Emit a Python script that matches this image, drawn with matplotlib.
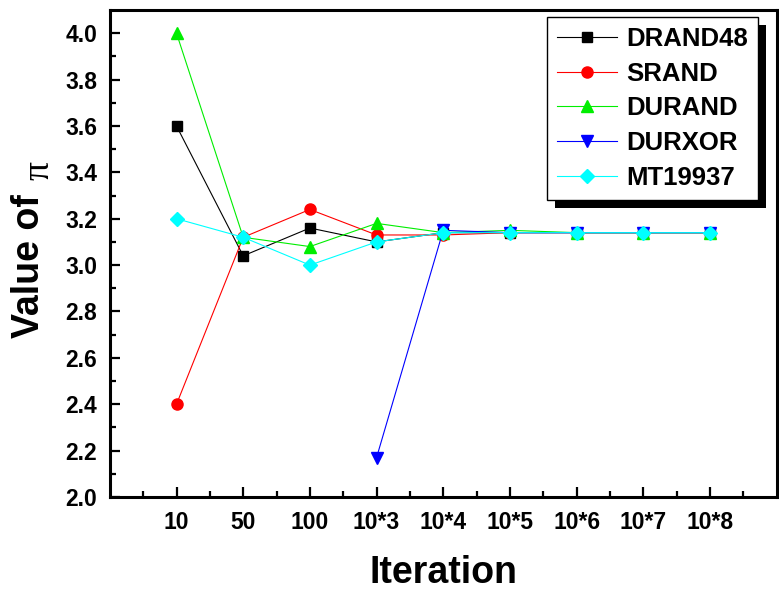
import numpy as np
import matplotlib.pyplot as plt
from matplotlib.patches import Rectangle

# estimates of pi from several random generators vs. iteration count
iters = ["10", "50", "100", "10*3", "10*4", "10*5", "10*6", "10*7", "10*8"]
drand48 = [3.60, 3.04, 3.16, 3.10, 3.14, 3.14, 3.14, 3.14, 3.14]
srand = [2.40, 3.12, 3.24, 3.13, 3.13, 3.14, 3.14, 3.14, 3.14]
durand = [4.00, 3.12, 3.08, 3.18, 3.14, 3.15, 3.14, 3.14, 3.14]
durxor = [np.nan, np.nan, np.nan, 2.17, 3.15, 3.14, 3.14, 3.14, 3.14]
mt19937 = [3.20, 3.12, 3.00, 3.10, 3.14, 3.14, 3.14, 3.14, 3.14]

plt.rcParams['font.family'] = ['Liberation Sans', 'DejaVu Sans']
plt.rcParams['font.weight'] = 'bold'

fig = plt.figure(figsize=(7.79, 5.92), dpi=100)
ax = fig.add_axes([0.141, 0.1605, 0.856, 0.8225])

x = np.arange(1, len(iters) + 1)
ax.plot(x, drand48, "-s", color="black", lw=0.8, ms=7.5, label="DRAND48")
ax.plot(x, srand, "-o", color="red", lw=0.8, ms=8, label="SRAND")
ax.plot(x, durand, "-^", color="#00ee00", lw=0.8, ms=9, label="DURAND")
ax.plot(x, durxor, "-v", color="blue", lw=0.8, ms=9, label="DURXOR")
ax.plot(x, mt19937, "-D", color="cyan", lw=0.8, ms=7.5, label="MT19937")

ax.set_xlim(0, 10)
ax.set_ylim(2.0, 4.1)
ax.set_xticks(x)
ax.set_xticklabels(iters, fontsize=16.5, fontweight='bold')
ax.set_xticks(np.arange(0.5, 10, 1.0), minor=True)
yt = np.arange(2.0, 4.01, 0.2)
ax.set_yticks(yt)
ax.set_yticklabels(["%.1f" % v for v in yt], fontsize=16.5, fontweight='bold')
ax.set_yticks(np.arange(2.1, 4.1, 0.2), minor=True)
ax.tick_params(which='major', direction='in', length=7, width=1.6)
ax.tick_params(axis='x', which='major', pad=10)
ax.tick_params(axis='y', which='major', pad=9)
ax.tick_params(which='minor', direction='in', length=4, width=1.6)
for s in ax.spines.values():
    s.set_linewidth(2.2)

ax.set_xlabel("Iteration", fontsize=27, fontweight='bold')
ax.xaxis.set_label_coords(0.5, -0.12)
ax.set_ylabel("Value of", fontsize=27, fontweight='bold')
ax.yaxis.set_label_coords(-0.094, 0.474)
# pi symbol drawn in a serif face, like a symbol font
fig.text(39 / 779, 1 - 170 / 592, "\u03c0", family="Liberation Serif",
         fontweight='normal', fontsize=27, rotation=90, ha='center', va='center')

leg = ax.legend(loc="upper right", bbox_to_anchor=(0.9715, 0.9856), numpoints=1,
                handlelength=2.35, fontsize=18.5, fancybox=False,
                borderaxespad=0, borderpad=0.38, labelspacing=0.42,
                handletextpad=0.35)
leg.get_frame().set_edgecolor("black")
leg.get_frame().set_linewidth(1.0)
leg.get_frame().set_alpha(1)
for t in leg.get_texts():
    t.set_fontweight('bold')

# solid black drop shadow behind the legend box
fig.canvas.draw()
bb = leg.get_window_extent()
ax.add_patch(Rectangle((bb.x0 + 8, bb.y0 - 8), bb.width, bb.height,
                       transform=None, facecolor="black", edgecolor="none",
                       zorder=4.9, clip_on=False))

fig.savefig("out.png", dpi=100)
